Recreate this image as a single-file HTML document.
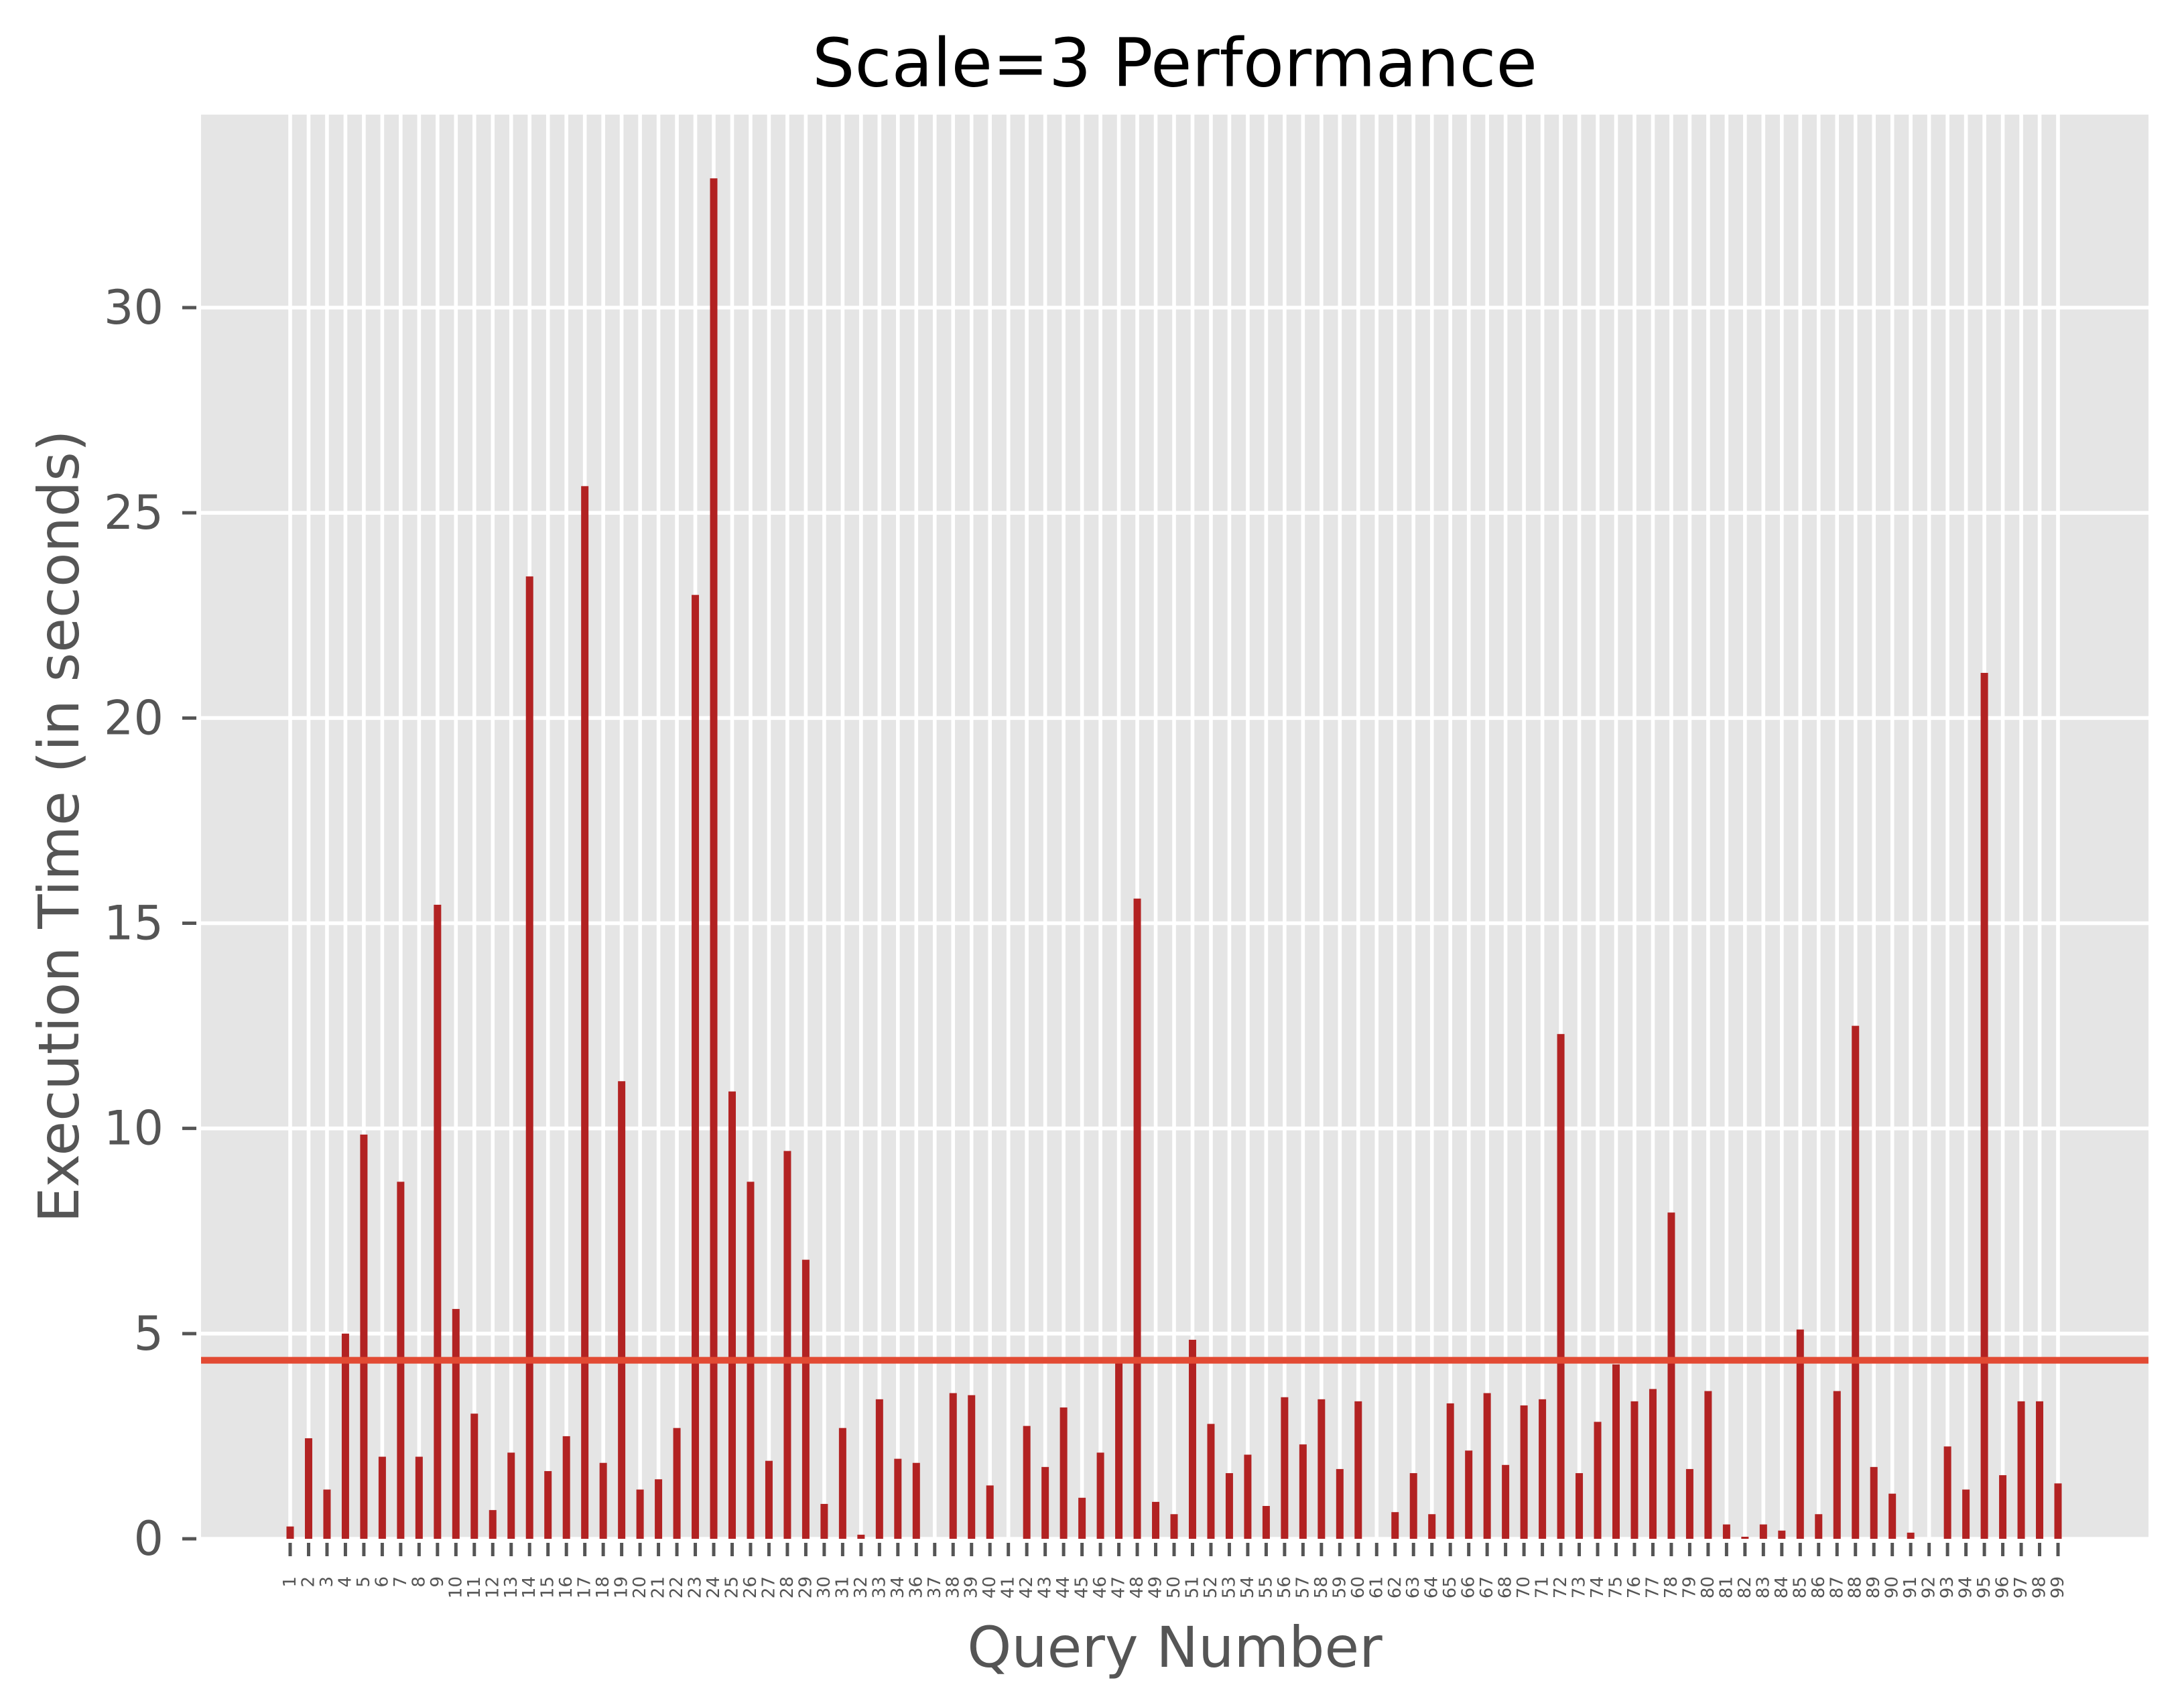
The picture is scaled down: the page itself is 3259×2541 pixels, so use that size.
<!DOCTYPE html>
<html><head><meta charset="utf-8"><style>
html,body{margin:0;padding:0;background:#fff;}
svg{display:block;font-family:"DejaVu Sans","Liberation Sans",sans-serif;}
</style></head><body>
<svg id="chart" width="3259" height="2541" viewBox="0 0 3259 2541" xmlns="http://www.w3.org/2000/svg">
<rect x="300" y="171" width="2906" height="2125" fill="#E5E5E5"/>
<g id="grid"></g>
<g id="bars"></g>
<g id="meanline"></g>
<g id="xaxis"></g>
<g id="yaxis"></g>
<text x="1753" y="94" font-size="100" text-anchor="middle" dominant-baseline="central" fill="#000">Scale=3 Performance</text>
<text x="1753" y="2458" font-size="84" text-anchor="middle" dominant-baseline="central" fill="#555">Query Number</text>
<text x="88" y="1233" font-size="84" text-anchor="middle" dominant-baseline="central" fill="#555" transform="rotate(-90 88 1233)">Execution Time (in seconds)</text>
</svg>
<script>
const categories = ["1","2","3","4","5","6","7","8","9","10","11","12","13","14","15","16","17","18","19","20","21","22","23","24","25","26","27","28","29","30","31","32","33","34","36","37","38","39","40","41","42","43","44","45","46","47","48","49","50","51","52","53","54","55","56","57","58","59","60","61","62","63","64","65","66","67","68","70","71","72","73","74","75","76","77","78","79","80","81","82","83","84","85","86","87","88","89","90","91","92","93","94","95","96","97","98","99"];
const times = [0.3,2.45,1.2,5.0,9.85,2.0,8.7,2.0,15.45,5.6,3.05,0.7,2.1,23.45,1.65,2.5,25.65,1.85,11.15,1.2,1.45,2.7,23.0,33.15,10.9,8.7,1.9,9.45,6.8,0.85,2.7,0.1,3.4,1.95,1.85,0,3.55,3.5,1.3,0,2.75,1.75,3.2,1.0,2.1,4.35,15.6,0.9,0.6,4.85,2.8,1.6,2.05,0.8,3.45,2.3,3.4,1.7,3.35,0,0.65,1.6,0.6,3.3,2.15,3.55,1.8,3.25,3.4,12.3,1.6,2.85,4.25,3.35,3.65,7.95,1.7,3.6,0.35,0.05,0.35,0.2,5.1,0.6,3.6,12.5,1.75,1.1,0.15,0,2.25,1.2,21.1,1.55,3.35,3.35,1.35];
const yTicks = [0,5,10,15,20,25,30];
const meanValue = [4.35];

const NS = "http://www.w3.org/2000/svg";
const L = 300, R = 3206, T = 171, B = 2296;
const x0 = 433, x1 = 3071;
function xScale(i){ return x0 + i * (x1 - x0) / (categories.length - 1); }
function yScale(v){ return B - v * (B - 459) / 30; }
function mk(tag, attrs, parent){ const e = document.createElementNS(NS, tag); for (const k in attrs) e.setAttribute(k, attrs[k]); parent.appendChild(e); return e; }

const grid = document.getElementById('grid');
yTicks.forEach(v => {
  const ln = mk('line', {x1:L, x2:R, y1:yScale(v), y2:yScale(v), stroke:'#fff', 'stroke-width':5.6}, grid);
  
  
});
categories.forEach((c, i) => {
  const ln = mk('line', {x1:xScale(i), x2:xScale(i), y1:T, y2:B, stroke:'#fff', 'stroke-width':5.6}, grid);
  
  
});

const bars = document.getElementById('bars');
times.forEach((v, i) => {
  const y = yScale(v);
  const r = mk('rect', {x:xScale(i) - 5.5, y:y, width:11, height:Math.max(0, B - y), fill:'#B22222'}, bars);
  
  
});

const mg = document.getElementById('meanline');
meanValue.forEach(m => {
  const ln = mk('line', {x1:L, x2:R, y1:yScale(m), y2:yScale(m), stroke:'#E24A33', 'stroke-width':10}, mg);
  
  
});

const xa = document.getElementById('xaxis');
categories.forEach((c, i) => {
  const x = xScale(i);
  const t = mk('line', {x1:x, x2:x, y1:B + 6, y2:B + 26, stroke:'#555', 'stroke-width':5}, xa);
  
  
  const tx = mk('text', {x:x, y:2352, 'font-size':26, fill:'#555', 'text-anchor':'end', 'dominant-baseline':'central', transform:'rotate(-90 ' + x + ' 2352)'}, xa);
  tx.textContent = c;
  
  
});

const ya = document.getElementById('yaxis');
yTicks.forEach(v => {
  const y = yScale(v);
  const t = mk('line', {x1:272, x2:293, y1:y, y2:y, stroke:'#555', 'stroke-width':5}, ya);
  
  
  const tx = mk('text', {x:244, y:y, 'font-size':70, fill:'#555', 'text-anchor':'end', 'dominant-baseline':'central'}, ya);
  tx.textContent = String(v);
  
  
});
</script>
</body></html>
